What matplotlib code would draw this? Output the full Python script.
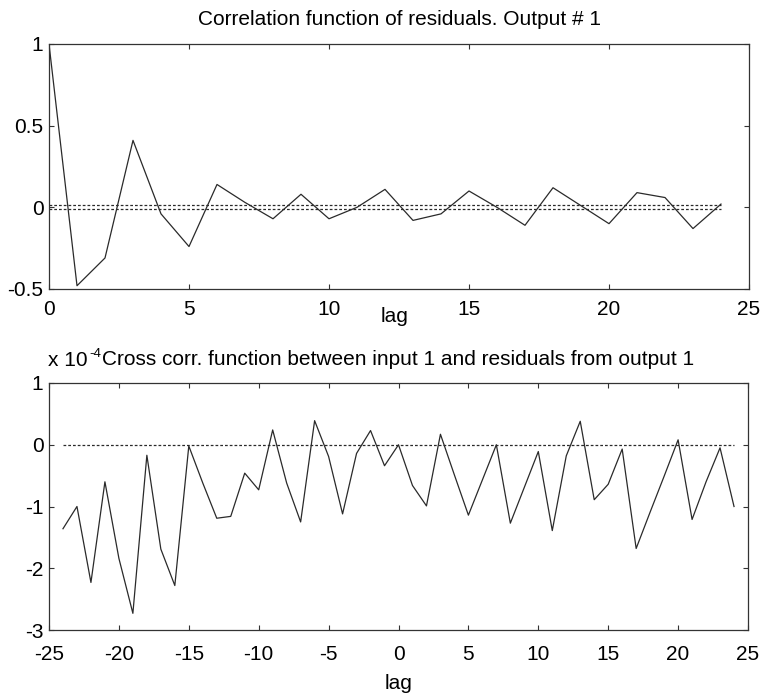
import numpy as np
import matplotlib
matplotlib.use("Agg")
import matplotlib.pyplot as plt

plt.rcParams['font.family'] = ['Liberation Sans', 'DejaVu Sans']

# Autocorrelation of residuals, output 1 (lags 0..24)
acf_lags = list(range(0, 25))
acf_values = [1.0, -0.48, -0.31, 0.41, -0.04, -0.24, 0.14, 0.03, -0.07, 0.08,
              -0.07, 0.0, 0.11, -0.08, -0.04, 0.10, 0.0, -0.11, 0.12, 0.01,
              -0.10, 0.09, 0.06, -0.13, 0.02]
acf_conf = 0.013  # confidence band half-width

# Cross correlation input 1 / residuals output 1 (lags -24..24), units of 1e-4
ccf_lags = list(range(-24, 25))
ccf_values_e4 = [-1.36, -1.00, -2.23, -0.60, -1.84, -2.73, -0.17, -1.69, -2.28,
                 -0.02, -0.62, -1.19, -1.16, -0.46, -0.73, 0.24, -0.62, -1.25,
                 0.39, -0.19, -1.12, -0.14, 0.23, -0.34, 0.0, -0.66, -0.99,
                 0.17, -0.49, -1.14, -0.57, 0.0, -1.27, -0.69, -0.11, -1.39,
                 -0.18, 0.38, -0.89, -0.64, -0.07, -1.68, -1.09, -0.51, 0.08,
                 -1.21, -0.60, -0.05, -1.00]
ccf_conf_e4 = 0.0

top_xticks = [0, 5, 10, 15, 20, 25]
top_yticks = [-0.5, 0, 0.5, 1]
top_yticklabels = ['-0.5', '0', '0.5', '1']
bot_xticks = [-25, -20, -15, -10, -5, 0, 5, 10, 15, 20, 25]
bot_yticks = [-3, -2, -1, 0, 1]

W, H = 763, 695
fig = plt.figure(figsize=(W / 100, H / 100), dpi=100)

FS = 15
LINE = '#2a2a2a'
FRAME = '#333333'


def px_axes(left, top, right, bottom):
    return fig.add_axes([left / W, 1 - bottom / H, (right - left) / W, (bottom - top) / H])


def style(ax, xpad):
    for s in ax.spines.values():
        s.set_color(FRAME)
        s.set_linewidth(0.9)
    ax.tick_params(direction='in', length=3.5, width=0.8, color=FRAME,
                   top=True, right=True, labelsize=FS)
    ax.tick_params(axis='y', pad=4)
    ax.tick_params(axis='x', pad=xpad)


# --- top: autocorrelation ---
ax1 = px_axes(49, 44, 749, 289)
ax1.plot(acf_lags, acf_values, color=LINE, lw=0.9)
ax1.plot([acf_lags[0], acf_lags[-1]], [acf_conf, acf_conf], color=LINE, lw=0.9,
         linestyle=(0, (2.2, 1.6)))
ax1.plot([acf_lags[0], acf_lags[-1]], [-acf_conf, -acf_conf], color=LINE, lw=0.9,
         linestyle=(0, (2.2, 1.6)))
ax1.set_xlim(0, 25)
ax1.set_ylim(-0.5, 1)
ax1.set_xticks(top_xticks)
ax1.set_xticklabels([str(t) for t in top_xticks])
ax1.set_yticks(top_yticks)
ax1.set_yticklabels(top_yticklabels)
style(ax1, 8)
ax1.set_title('Correlation function of residuals. Output # 1', fontsize=FS, pad=13.5)
ax1.set_xlabel('lag', fontsize=FS)
ax1.xaxis.set_label_coords(0.493, -0.073)
ax1.xaxis.label.set_va('top')

# --- bottom: cross correlation ---
ax2 = px_axes(49, 383, 748, 630)
ax2.plot(ccf_lags, ccf_values_e4, color=LINE, lw=0.9)
ax2.plot([ccf_lags[0], ccf_lags[-1]], [ccf_conf_e4, ccf_conf_e4], color=LINE, lw=0.9,
         linestyle=(0, (2.2, 1.6)))
ax2.set_xlim(-25, 25)
ax2.set_ylim(-3, 1)
ax2.set_xticks(bot_xticks)
ax2.set_xticklabels([str(t) for t in bot_xticks])
ax2.set_yticks(bot_yticks)
ax2.set_yticklabels([str(t) for t in bot_yticks])
style(ax2, 11)
ax2.set_title('Cross corr. function between input 1 and residuals from output 1',
              fontsize=FS, pad=13)
ax2.set_xlabel('lag', fontsize=FS)
ax2.xaxis.set_label_coords(0.5, -0.178)
ax2.xaxis.label.set_va('top')

# axis scale factor for the cross correlation
fig.text(48 / W, 1 - 366 / H, 'x 10', fontsize=FS, ha='left', va='baseline')
fig.text(89 / W, 1 - 357 / H, '-4', fontsize=9.5, ha='left', va='baseline')

fig.savefig('out.png', dpi=100)
